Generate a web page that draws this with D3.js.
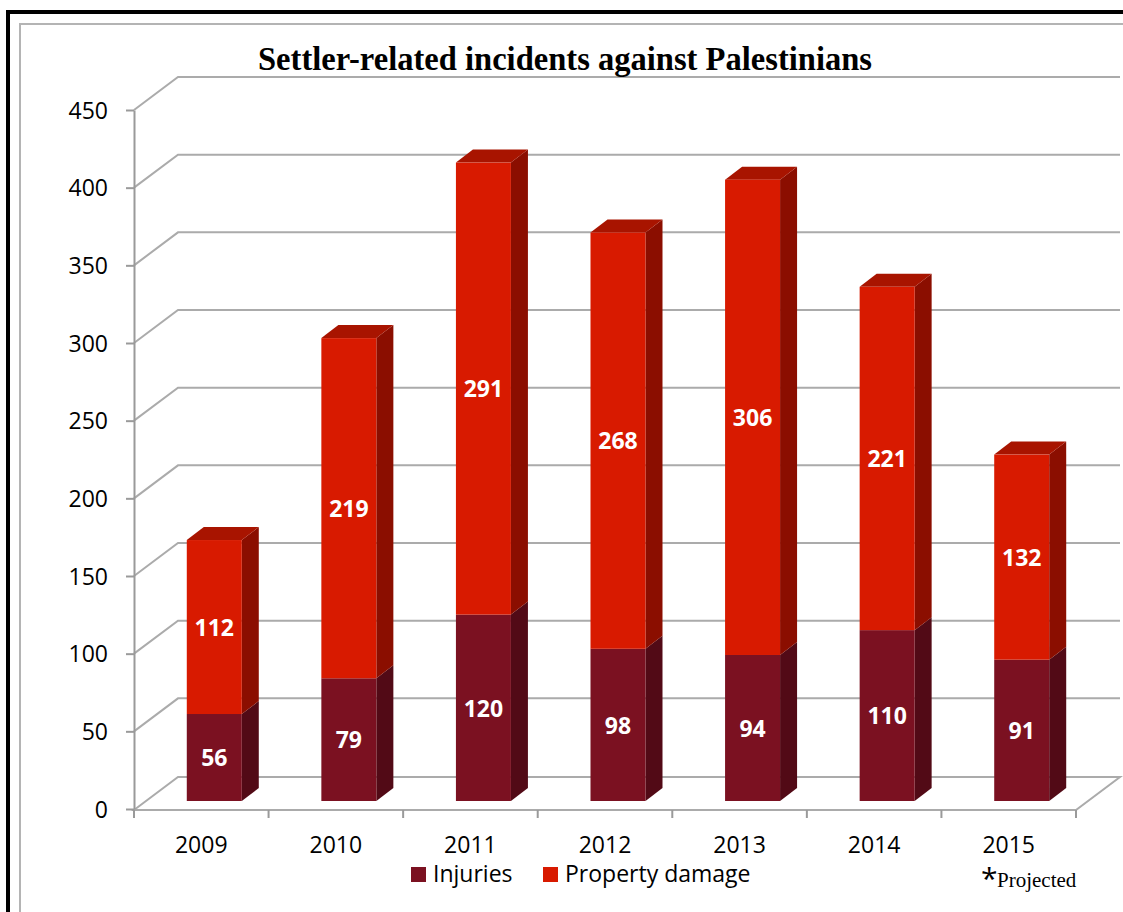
<!DOCTYPE html>
<html>
<head>
<meta charset="utf-8">
<script src="https://cdn.jsdelivr.net/npm/d3@7"></script>
<style>
  html, body { margin: 0; padding: 0; background: #fff; }
  svg { display: block; }
</style>
</head>
<body>
<div id="chart"></div>
<script>
// data
const years = ['2009', '2010', '2011', '2012', '2013', '2014', '2015'];
const injuries = [56, 79, 120, 98, 94, 110, 91];
const propertyDamage = [112, 219, 291, 268, 306, 221, 132];
const yTicks = [0, 50, 100, 150, 200, 250, 300, 350, 400, 450];
const seriesNames = ['Injuries', 'Property damage'];

const W = 1123, H = 912;
const plotLeft = 134, plotRight = 1076, plotTop = 110, plotBottom = 809;
// 3d depth of the floor / wall, and of the bars
const depth = { dx: 44, dy: -33 };
const barShift = { dx: 13, dy: -8 };
const barDepth = { dx: 17, dy: -13 };
const barW = 55;

const colors = {
  inj: { front: '#7b1121', side: '#520a16', top: '#66101c' },
  prop: { front: '#d81a00', side: '#8b0e00', top: '#a81400' }
};

const svg = d3.select('#chart').append('svg')
  .attr('width', W)
  .attr('height', H);

// frame
svg.append('rect').attr('x', 20).attr('y', 24).attr('width', W).attr('height', H)
  .attr('fill', 'none').attr('stroke', '#b4b4b4').attr('stroke-width', 2);
svg.append('rect').attr('x', 6).attr('y', 10).attr('width', W).attr('height', 4).attr('fill', '#000');
svg.append('rect').attr('x', 6).attr('y', 10).attr('width', 4).attr('height', H).attr('fill', '#000');

const x = d3.scaleBand().domain(years).range([plotLeft, plotRight]).paddingInner(0).paddingOuter(0);
const y = d3.scaleLinear().domain([0, 450]).range([plotBottom, plotTop]);

// gridlines on the left wall and back wall
const grid = svg.append('g').attr('class', 'grid');
const backRight = plotRight + depth.dx;
yTicks.forEach(t => {
  const yy = y(t);
  if (t === 0) return;
  grid.append('polyline')
    .attr('points', [[plotLeft, yy], [plotLeft + depth.dx, yy + depth.dy], [backRight, yy + depth.dy]].join(' '))
    .attr('fill', 'none').attr('stroke', '#ababab').attr('stroke-width', 2);
});
// floor
const y0 = y(0) + 1;
grid.append('polygon')
  .attr('points', [[plotLeft, y0], [plotLeft + depth.dx, y0 + depth.dy], [backRight, y0 + depth.dy], [plotRight, y0]].join(' '))
  .attr('fill', 'none').attr('stroke', '#ababab').attr('stroke-width', 2);

// title
svg.append('text')
  .attr('x', 565).attr('y', 70)
  .attr('text-anchor', 'middle')
  .attr('font-family', '"Liberation Serif", "Times New Roman", serif')
  .attr('font-weight', 'bold')
  .attr('font-size', 34)
  .attr('textLength', 614)
  .attr('lengthAdjust', 'spacingAndGlyphs')
  .text('Settler-related incidents against Palestinians');

// y axis
const yAxis = d3.axisLeft(y).tickValues(yTicks).tickSize(8).tickSizeOuter(0).tickPadding(18);
const yg = svg.append('g').attr('transform', 'translate(' + plotLeft + ',0)').call(yAxis);
yg.select('.domain').attr('stroke', '#9a9a9a').attr('stroke-width', 2);
yg.selectAll('.tick line').attr('stroke', '#9a9a9a').attr('stroke-width', 2);
yg.selectAll('.tick text')
  .attr('font-family', '"Open Sans", sans-serif')
  .attr('font-size', 23)
  .attr('fill', '#000')
  .attr('dy', '0.36em');

// x axis ticks at band edges
const xEdges = years.map(d => x(d)).concat([plotRight]);
svg.append('g').selectAll('line').data(xEdges).enter().append('line')
  .attr('x1', d => d).attr('x2', d => d)
  .attr('y1', y0).attr('y2', y0 + 8)
  .attr('stroke', '#9a9a9a').attr('stroke-width', 2);
svg.append('g').selectAll('text').data(years).enter().append('text')
  .attr('x', d => x(d) + x.bandwidth() / 2)
  .attr('y', 853)
  .attr('text-anchor', 'middle')
  .attr('font-family', '"Open Sans", sans-serif')
  .attr('font-size', 23)
  .text(d => d);

// stacked 3d bars
const stackData = years.map((yr, i) => ({ year: yr, inj: injuries[i], prop: propertyDamage[i] }));
const stacked = d3.stack().keys(['inj', 'prop'])(stackData);

const bars = svg.append('g').attr('class', 'bars');
stackData.forEach((d, i) => {
  const bx = x(d.year) + (x.bandwidth() - barW) / 2 + barShift.dx;
  const g = bars.append('g');
  stacked.forEach((layer, li) => {
    const v0 = layer[i][0], v1 = layer[i][1];
    const c = colors[layer.key];
    const yTop = y(v1) + barShift.dy;
    const yBot = y(v0) + barShift.dy;
    // side
    g.append('polygon')
      .attr('points', [[bx + barW, yBot], [bx + barW + barDepth.dx, yBot + barDepth.dy],
        [bx + barW + barDepth.dx, yTop + barDepth.dy], [bx + barW, yTop]].join(' '))
      .attr('fill', c.side);
    // top (only visible on the last segment)
    if (li === stacked.length - 1) {
      g.append('polygon')
        .attr('points', [[bx, yTop], [bx + barDepth.dx, yTop + barDepth.dy],
          [bx + barW + barDepth.dx, yTop + barDepth.dy], [bx + barW, yTop]].join(' '))
        .attr('fill', c.top);
    }
    // front
    g.append('rect')
      .attr('x', bx).attr('y', yTop)
      .attr('width', barW).attr('height', yBot - yTop)
      .attr('fill', c.front);
    g.append('text')
      .attr('x', bx + barW / 2)
      .attr('y', (yTop + yBot) / 2)
      .attr('dy', '0.38em')
      .attr('text-anchor', 'middle')
      .attr('font-family', '"Open Sans", sans-serif')
      .attr('font-weight', 'bold')
      .attr('font-size', 23)
      .attr('fill', '#fff')
      .text(layer[i].data[layer.key]);
  });
});

// legend
const legend = svg.append('g');
const legendX = [411, 543];
seriesNames.forEach((name, i) => {
  const c = i === 0 ? colors.inj.front : colors.prop.front;
  legend.append('rect').attr('x', legendX[i]).attr('y', 867).attr('width', 15).attr('height', 15).attr('fill', c);
  legend.append('text')
    .attr('x', legendX[i] + 22).attr('y', 882)
    .attr('font-family', '"Open Sans", sans-serif')
    .attr('font-size', 23)
    .text(name);
});

// note
svg.append('text').attr('x', 981).attr('y', 889)
  .attr('font-family', '"Open Sans", sans-serif').attr('font-size', 30).text('*');
svg.append('text').attr('x', 997).attr('y', 887)
  .attr('font-family', '"Liberation Serif", "Times New Roman", serif').attr('font-size', 21)
  .text('Projected');
</script>
</body>
</html>
